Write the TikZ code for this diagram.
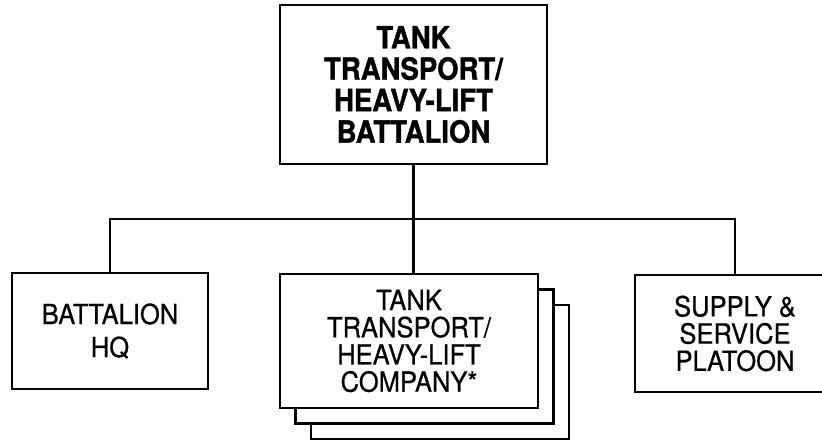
\documentclass[tikz,border=0pt]{standalone}
\usepackage{fontspec}
\setmainfont{TeX Gyre Heros}
\newfontfamily\narrowsf[FakeStretch=0.92,FakeBold=0.6]{TeX Gyre Heros}
\newfontfamily\heavysf[FakeStretch=0.9,FakeBold=1.2]{TeX Gyre Heros}
\begin{document}
\begin{tikzpicture}[x=0.02cm,y=-0.02cm,line width=1.6pt,
	unit/.style={draw, fill=white, align=center, inner sep=0pt}]
	\useasboundingbox (0,0) rectangle (822,442);
	\def\d{15.5};
	% battalion
	\node[unit, minimum width=5.34cm, minimum height=3.18cm,
		font=\heavysf\bfseries\fontsize{17.4}{17.9}\selectfont] (bn) at (413.5,84.5)
		{TANK\\TRANSPORT/\\HEAVY-LIFT\\BATTALION};
	% subordinate units
	\node[unit, minimum width=3.92cm, minimum height=2.32cm,
		font=\narrowsf\fontsize{15.8}{18.8}\selectfont] (hq) at (110,331)
		{BATTALION\\HQ};
	\foreach \k in {2,1} {
		\node[unit, minimum width=5.16cm, minimum height=2.68cm] (comp\k) at (409+\k*\d,341+\k*\d) {};
	}
	\node[unit, minimum width=5.16cm, minimum height=2.68cm,
		font=\narrowsf\fontsize{15.8}{15.5}\selectfont] (comp) at (409,341)
		{TANK\\TRANSPORT/\\HEAVY-LIFT\\COMPANY*};
	\node[unit, minimum width=4cm, minimum height=2.34cm,
		font=\narrowsf\fontsize{15.8}{15.5}\selectfont] (sup) at (735,333.5)
		{SUPPLY \&\\SERVICE\\PLATOON};
	% connectors
	\coordinate (bar) at (413.5,219);
	\draw (bn.south) -- (bn.south |- comp.north);
	\draw (hq.north) |- (bar) -| (sup.north);
\end{tikzpicture}
\end{document}
